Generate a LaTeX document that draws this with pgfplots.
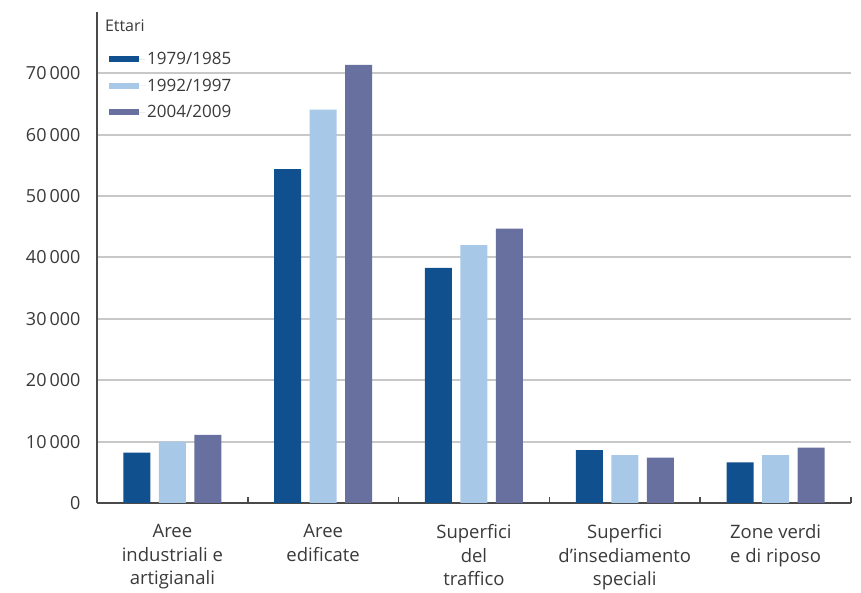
\documentclass[border=0pt]{standalone}
\usepackage{pgfplots}
\pgfplotsset{compat=1.18}
\usepackage{fontspec}
\setmainfont{Open Sans}
\definecolor{cA}{HTML}{11508F}
\definecolor{cB}{HTML}{A8C8E8}
\definecolor{cC}{HTML}{68709F}
\definecolor{gridc}{HTML}{C8C8C8}
\definecolor{axc}{HTML}{4A4A4A}
\definecolor{txt}{HTML}{3A3A3A}
\begin{document}
\begin{tikzpicture}
\begin{axis}[
  scale only axis, width=754pt, height=491pt,
  xmin=-0.5, xmax=4.5, ymin=0, ymax=80000,
  axis x line*=bottom, axis y line*=left,
  axis line style={axc, line width=2.5pt},
  ybar=8.5pt, bar width=27pt,
  xtick={0,1,2,3,4},
  xticklabels={Aree\\industriali e\\artigianali, Aree\\edificate, Superfici\\del\\traffico, Superfici\\d’insediamento\\speciali, Zone verdi\\e di riposo},
  xticklabel style={align=center, font=\fontsize{18.5}{23.5}\selectfont, text=txt, yshift=-18pt},
  ytick={0,10000,20000,30000,40000,50000,60000,70000},
  scaled y ticks=false,
  /pgf/number format/.cd, 1000 sep={\,}, assume math mode=true, /pgfplots/.cd,
  yticklabel style={font=\fontsize{18}{21}\selectfont, text=txt, xshift=-13pt},
  ymajorgrids, grid style={gridc, line width=2pt},
  major tick length=0pt,
  extra x ticks={0.5,1.5,2.5,3.5,4.5}, extra x tick labels={},
  extra x tick style={grid=none, major tick length=6pt, tick align=inside, tick style={axc, line width=1.5pt}},
  legend image code/.code={\fill[#1] (0pt,-3pt) rectangle (30pt,3pt); \path (0pt,0pt) -- (36pt,0pt);},
  legend cell align=left,
  legend style={at={(rel axis cs:0.016,0.922)}, anchor=north west, draw=none, fill=none,
    font=\fontsize{17}{20}\selectfont, text=txt, row sep=8.5pt, inner sep=0pt},
  clip=false,
]
\addplot[fill=cA, draw=none] coordinates {(0,8200) (1,54400) (2,38300) (3,8600) (4,6600)};
\addplot[fill=cB, draw=none] coordinates {(0,10000) (1,64100) (2,42000) (3,7800) (4,7800)};
\addplot[fill=cC, draw=none] coordinates {(0,11100) (1,71400) (2,44700) (3,7400) (4,9000)};
\legend{1979/1985, 1992/1997, 2004/2009}
\node[anchor=west, font=\fontsize{16}{19}\selectfont, text=txt] at (rel axis cs:0.006,0.972) {Ettari};
\coordinate (bl) at (rel axis cs:-0.1286,-0.1833);
\coordinate (tr) at (rel axis cs:1.0133,1.0244);
\end{axis}
\pgfresetboundingbox
\path[use as bounding box] (bl) rectangle (tr);
\end{tikzpicture}
\end{document}
